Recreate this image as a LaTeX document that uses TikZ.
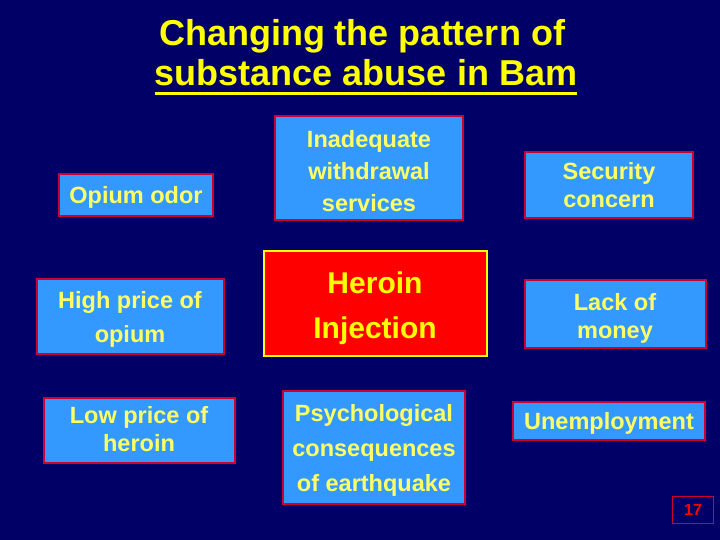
\documentclass[tikz,border=0pt]{standalone}
\usepackage{fontspec}
\setmainfont{Liberation Sans}
\definecolor{bgnavy}{RGB}{0,0,102}
\definecolor{boxblue}{RGB}{51,153,255}
\definecolor{boxred}{RGB}{204,0,51}
\definecolor{txtyellow}{RGB}{255,255,102}
\definecolor{hotred}{RGB}{255,0,0}
\definecolor{goldy}{RGB}{255,255,0}
\begin{document}
\begin{tikzpicture}[x=1pt,y=-1pt,
  bluebox/.style={draw=boxred, line width=2pt, fill=boxblue, inner sep=0pt},
  redbox/.style={draw=goldy, line width=2pt, fill=hotred, inner sep=0pt},
  bluetxt/.style={text=txtyellow, inner sep=0pt, align=center,
    font=\bfseries\fontsize{23.5}{28}\selectfont},
  redtxt/.style={text=goldy, inner sep=0pt, align=center,
    font=\bfseries\fontsize{30}{45}\selectfont},
  titletext/.style={text=goldy, inner sep=0pt, anchor=base, font=\bfseries\fontsize{36}{40}\selectfont},
  pagebox/.style={draw=boxred, line width=1.2pt, fill=bgnavy, text=hotred,
    inner sep=0pt, font=\bfseries\fontsize{16}{18}\selectfont}
]
\useasboundingbox (0,0) rectangle (720,540);
\fill[bgnavy] (0,0) rectangle (720,540);

\node[titletext] (t1) at (362,46) {Changing the pattern of};
\node[titletext] (t2) at (366,86) {substance abuse in Bam};
\draw[goldy, line width=2.2pt] ([yshift=-7.5pt]t2.base west) -- ([yshift=-7.5pt]t2.base east);

% boxes
\node[bluebox, minimum width=154pt, minimum height=42pt] (opium) at (136,195) {};
\node[bluebox, minimum width=188pt, minimum height=104pt] (inad) at (369,168) {};
\node[bluebox, minimum width=168pt, minimum height=66pt] (secur) at (609,185) {};
\node[bluebox, minimum width=187pt, minimum height=75pt] (high) at (130,316) {};
\node[redbox, minimum width=223pt, minimum height=105pt] (heroin) at (375,303) {};
\node[bluebox, minimum width=181pt, minimum height=68pt] (lack) at (615,314) {};
\node[bluebox, minimum width=191pt, minimum height=65pt] (low) at (139,430) {};
\node[bluebox, minimum width=182pt, minimum height=113pt] (psych) at (374,447) {};
\node[bluebox, minimum width=192pt, minimum height=38pt] (unemp) at (609,421) {};

% texts
\node[bluetxt] (opiumT) at ([yshift=-2pt]opium.center) {Opium odor};
\node[bluetxt, font=\bfseries\fontsize{23.5}{32}\selectfont] (inadT) at ([yshift=-3pt]inad.center) {Inadequate\\withdrawal\\services};
\node[bluetxt] (securT) at (secur.center) {Security\\concern};
\node[bluetxt, font=\bfseries\fontsize{23.5}{34}\selectfont] (highT) at ([yshift=-3pt]high.center) {High price of\\opium};
\node[redtxt] (heroinT) at ([yshift=-5pt]heroin.center) {Heroin\\Injection};
\node[bluetxt] (lackT) at ([yshift=-4pt]lack.center) {Lack of\\money};
\node[bluetxt] (lowT) at ([yshift=1pt]low.center) {Low price of\\heroin};
\node[bluetxt, font=\bfseries\fontsize{23.5}{35}\selectfont] (psychT) at ([yshift=-3pt]psych.center) {Psychological\\consequences\\of earthquake};
\node[bluetxt] (unempT) at ([yshift=-2pt]unemp.center) {Unemployment};

\node[pagebox, minimum width=41pt, minimum height=27pt] (page) at (693,510) {17};
\end{tikzpicture}
\end{document}
